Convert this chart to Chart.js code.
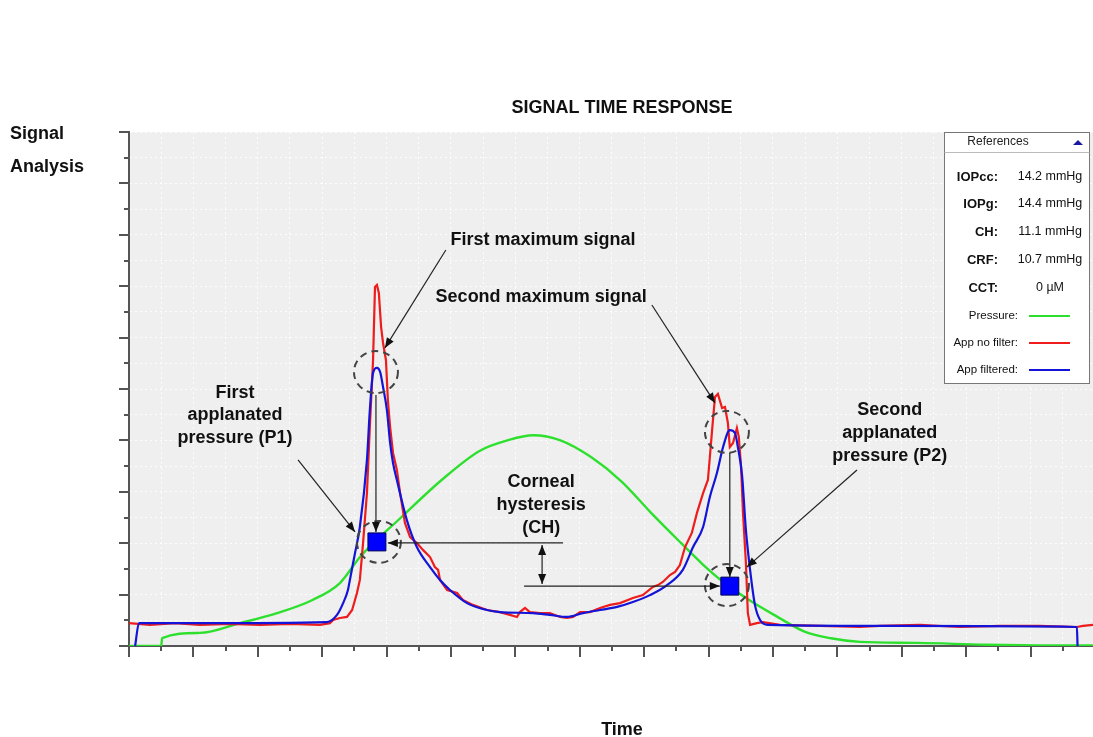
<!DOCTYPE html>
<html><head><meta charset="utf-8">
<script src="https://cdn.jsdelivr.net/npm/chart.js@4.4.0/dist/chart.umd.min.js"></script>
<style>html,body{margin:0;padding:0;background:#fff}canvas{display:block}</style>
</head><body>
<canvas id="c" width="1093" height="737"></canvas>
<script>
// ---- series (x in time units, y in signal units) ----
const pressureX = [0,1.0,1.03,2.2,3.45,4.6,5.7,6.55,7.2,8.45,9.7,10.9,11.75,12.55,13.4,14.35,15.3,16.2,17.15,17.8,18.4,19.25,20.05,21.0,21.8,22.7,24.5,26.6,28.7,29.94];
const pressureY = [0,0,0.31,0.51,0.89,1.28,1.79,2.45,3.5,5.0,6.45,7.6,8.0,8.2,8.0,7.35,6.4,5.2,4.0,3.2,2.55,1.8,1.2,0.55,0.3,0.16,0.12,0.05,0.02,0.02];

const filteredX = [0.19,0.31,2.2,6.15,6.46,6.65,6.80,6.86,7.02,7.17,7.39,7.48,7.58,7.70,7.80,7.89,8.01,8.11,8.20,8.32,8.63,8.94,9.35,9.66,9.97,10.50,10.99,11.52,12.55,13.07,13.60,14.10,14.63,15.16,15.65,16.18,16.71,17.20,17.52,17.83,18.04,18.26,18.45,18.66,18.82,18.91,19.04,19.16,19.29,19.44,19.60,19.84,23.94,29.44,29.46];
const filteredY = [0,0.89,0.89,0.93,1.21,1.67,2.18,2.57,3.62,4.63,7.24,9.18,10.62,10.82,10.66,10.08,9.18,7.90,7.12,6.46,4.90,3.85,3.07,2.57,2.18,1.67,1.44,1.32,1.28,1.21,1.13,1.28,1.40,1.52,1.71,1.98,2.37,2.96,3.85,4.63,5.80,6.73,7.74,8.40,8.29,7.74,6.65,4.51,2.96,1.60,1.01,0.82,0.78,0.74,0];

const noFilterX = [0,0.65,1.43,2.2,3.14,4.07,5.0,5.93,6.24,6.34,6.55,6.77,6.93,7.08,7.17,7.27,7.39,7.48,7.58,7.64,7.70,7.76,7.83,7.89,7.98,8.04,8.11,8.20,8.32,8.42,8.57,8.73,8.94,9.13,9.35,9.50,9.60,9.66,9.88,10.19,10.37,10.68,11.12,11.52,11.83,12.05,12.14,12.30,12.45,12.76,13.07,13.39,13.60,13.79,14.01,14.32,14.63,14.94,15.25,15.65,15.96,16.27,16.43,16.58,16.80,16.96,17.11,17.27,17.48,17.64,17.83,17.98,18.11,18.20,18.29,18.42,18.51,18.60,18.66,18.76,18.88,18.94,19.01,19.07,19.16,19.22,19.29,19.50,19.69,20.22,21.46,22.70,23.32,24.57,25.81,27.05,28.29,29.44,29.63,29.94];
const noFilterY = [0.89,0.82,0.89,0.82,0.86,0.82,0.86,0.82,0.89,1.01,1.09,1.13,1.40,2.06,2.57,4.01,5.95,8.52,11.13,13.97,14.05,13.74,12.41,11.79,11.13,9.57,8.52,7.51,6.85,5.95,4.79,4.24,4.01,3.74,3.46,3.07,2.96,2.57,2.18,2.06,1.79,1.60,1.40,1.32,1.21,1.13,1.32,1.48,1.32,1.28,1.28,1.13,1.09,1.13,1.32,1.32,1.48,1.60,1.67,1.87,1.98,2.30,2.37,2.49,2.76,2.88,3.15,3.85,4.40,5.18,5.95,6.46,8.40,9.69,9.81,9.26,9.30,8.68,7.74,7.90,8.48,8.13,6.96,5.18,3.23,1.28,0.82,0.89,0.93,0.82,0.78,0.74,0.78,0.82,0.74,0.78,0.78,0.74,0.78,0.82];

// applanation markers (P1, P2)
const markerX = [7.70, 18.66];
const markerY = [4.05, 2.33];

// annotation circles (centres)
const circleX = [7.67, 7.76, 18.57, 18.57];
const circleY = [10.66, 4.05, 8.33, 2.37];

// annotation arrows: from -> to, double = head on both ends
const arrowFromX = [9.84, 16.24, 5.25, 22.61, 7.67, 13.48, 12.83, 12.27, 18.66];
const arrowFromY = [15.41, 13.27, 7.24, 6.85, 9.77, 4.01, 3.93, 2.33, 7.51];
const arrowToX   = [7.95, 18.20, 7.02, 19.19, 7.67, 8.04, 12.83, 18.35, 18.66];
const arrowToY   = [11.60, 9.46, 4.44, 3.07, 4.44, 4.01, 2.41, 2.33, 2.68];
const arrowDouble = [false,false,false,false,false,false,true,false,false];

// annotation texts
const noteText = ["First maximum signal","Second maximum signal","First","applanated","pressure (P1)","Second","applanated","pressure (P2)","Corneal","hysteresis","(CH)"];
const noteX = [12.86,12.80,3.29,3.29,3.29,23.63,23.63,23.63,12.80,12.80,12.80];
const noteY = [15.80,13.58,9.84,8.99,8.09,9.18,8.29,7.39,6.38,5.49,4.59];

// reference panel
const refLabels = ["IOPcc:","IOPg:","CH:","CRF:","CCT:"];
const refValues = ["14.2 mmHg","14.4 mmHg","11.1 mmHg","10.7 mmHg","0 \u00b5M"];

const xTicks = Array.from({length:30},(_, i)=>i);
const yTicks = Array.from({length:21},(_, i)=>i);

const FONT = "'Liberation Sans', Arial, sans-serif";
const pairs = (xs, ys) => xs.map((x,i)=>({x, y: ys[i]}));

const bgPlugin = {
  id:'bg',
  beforeDraw(chart){
    const {ctx, chartArea:a} = chart;
    ctx.save();
    ctx.fillStyle = '#efefef';
    ctx.fillRect(a.left, a.top, a.right-a.left, a.bottom-a.top);
    ctx.restore();
  }
};

function arrowHead(ctx, x1, y1, x2, y2){
  const ang = Math.atan2(y2-y1, x2-x1);
  const L = 10, W = 4;
  ctx.beginPath();
  ctx.moveTo(x2, y2);
  ctx.lineTo(x2 - L*Math.cos(ang) + W*Math.sin(ang), y2 - L*Math.sin(ang) - W*Math.cos(ang));
  ctx.lineTo(x2 - L*Math.cos(ang) - W*Math.sin(ang), y2 - L*Math.sin(ang) + W*Math.cos(ang));
  ctx.closePath();
  ctx.fill();
}

const annotPlugin = {
  id:'annot',
  afterDatasetsDraw(chart){
    const {ctx, scales:{x, y}} = chart;
    ctx.save();
    ctx.strokeStyle = '#444';
    ctx.lineWidth = 2;
    ctx.setLineDash([7,5]);
    circleX.forEach((cx,i)=>{
      ctx.beginPath();
      ctx.ellipse(x.getPixelForValue(cx), y.getPixelForValue(circleY[i]), 22, 21, 0, 0, Math.PI*2);
      ctx.stroke();
    });
    ctx.setLineDash([]);
    ctx.strokeStyle = '#222';
    ctx.fillStyle = '#111';
    ctx.lineWidth = 1.2;
    arrowFromX.forEach((fx,i)=>{
      const x1 = x.getPixelForValue(fx), y1 = y.getPixelForValue(arrowFromY[i]);
      const x2 = x.getPixelForValue(arrowToX[i]), y2 = y.getPixelForValue(arrowToY[i]);
      ctx.beginPath(); ctx.moveTo(x1,y1); ctx.lineTo(x2,y2); ctx.stroke();
      arrowHead(ctx, x1, y1, x2, y2);
      if (arrowDouble[i]) arrowHead(ctx, x2, y2, x1, y1);
    });
    ctx.fillStyle = '#111';
    ctx.font = 'bold 18px ' + FONT;
    ctx.textAlign = 'center';
    ctx.textBaseline = 'middle';
    noteText.forEach((t,i)=>{
      ctx.fillText(t, x.getPixelForValue(noteX[i]), y.getPixelForValue(noteY[i]));
    });
    ctx.restore();
  }
};

const framePlugin = {
  id:'frame',
  afterDraw(chart){
    const {ctx, chartArea:a, scales:{x, y}} = chart;
    ctx.save();
    ctx.strokeStyle = '#555';
    ctx.lineWidth = 2;
    yTicks.forEach(v=>{
      const py = Math.round(y.getPixelForValue(v));
      const len = v%2===0 ? 10 : 5;
      ctx.beginPath(); ctx.moveTo(a.left-len, py); ctx.lineTo(a.left, py); ctx.stroke();
    });
    xTicks.forEach(v=>{
      const px = Math.round(x.getPixelForValue(v));
      const len = v%2===0 ? 11 : 5;
      ctx.beginPath(); ctx.moveTo(px, a.bottom); ctx.lineTo(px, a.bottom+len); ctx.stroke();
    });
    ctx.fillStyle = '#111';
    ctx.textBaseline = 'middle';
    ctx.font = 'bold 18px ' + FONT;
    ctx.textAlign = 'center';
    ctx.fillText('SIGNAL TIME RESPONSE', 622, 108);
    ctx.fillText('Time', 622, 730);
    ctx.textAlign = 'left';
    ctx.fillText('Signal', 10, 134);
    ctx.fillText('Analysis', 10, 167);

    // reference panel
    const L = 944.5, T = 132.5, W = 145, H = 251;
    ctx.fillStyle = '#ffffff';
    ctx.fillRect(L, T, W, H);
    ctx.strokeStyle = '#777';
    ctx.lineWidth = 1;
    ctx.strokeRect(L, T, W, H);
    ctx.strokeStyle = '#bbb';
    ctx.beginPath(); ctx.moveTo(L, 152.5); ctx.lineTo(L+W, 152.5); ctx.stroke();
    ctx.fillStyle = '#222';
    ctx.font = '12px ' + FONT;
    ctx.textAlign = 'center';
    ctx.fillText('References', 998, 142);
    ctx.fillStyle = '#1a1aa0';
    ctx.beginPath(); ctx.moveTo(1073,145); ctx.lineTo(1083,145); ctx.lineTo(1078,140); ctx.closePath(); ctx.fill();
    const rowY = [177, 204, 232, 260, 288];
    refLabels.forEach((t,i)=>{
      ctx.fillStyle = '#111';
      ctx.font = 'bold 13px ' + FONT;
      ctx.textAlign = 'right';
      ctx.fillText(t, 998, rowY[i]);
      ctx.font = '12.5px ' + FONT;
      ctx.textAlign = 'center';
      ctx.fillText(refValues[i], 1050, rowY[i]);
    });
    const legY = [316, 343, 370];
    const legSets = [3, 2, 1];
    legSets.forEach((di,i)=>{
      const ds = chart.data.datasets[di];
      ctx.fillStyle = '#111';
      ctx.font = '11.5px ' + FONT;
      ctx.textAlign = 'right';
      ctx.fillText(ds.label, 1018, legY[i]);
      ctx.strokeStyle = ds.borderColor;
      ctx.lineWidth = 2;
      ctx.beginPath(); ctx.moveTo(1029, legY[i]); ctx.lineTo(1070, legY[i]); ctx.stroke();
    });
    ctx.restore();
  }
};

new Chart(document.getElementById('c'), {
  type: 'scatter',
  data: {
    datasets: [
      { label:'Applanation', data: pairs(markerX, markerY), showLine:false,
        pointStyle:'rect', pointRadius:12.7, pointHoverRadius:12.7,
        backgroundColor:'#0000ff', borderColor:'#000055', borderWidth:1 },
      { label:'App filtered:', data: pairs(filteredX, filteredY), showLine:true,
        borderColor:'#1414d8', borderWidth:2.2, pointRadius:0, cubicInterpolationMode:'monotone' },
      { label:'App no filter:', data: pairs(noFilterX, noFilterY), showLine:true,
        borderColor:'#ee1c1c', borderWidth:2.2, pointRadius:0, tension:0 },
      { label:'Pressure:', data: pairs(pressureX, pressureY), showLine:true,
        borderColor:'#2ee02e', borderWidth:2.4, pointRadius:0, cubicInterpolationMode:'monotone' }
    ]
  },
  options: {
    responsive:false,
    animation:false,
    events:[],
    layout:{ autoPadding:false, padding:{ left:129, top:132, right:0, bottom:91 } },
    plugins:{ legend:{display:false}, title:{display:false}, tooltip:{enabled:false} },
    scales:{
      x:{ type:'linear', min:0, max:29.94,
          afterBuildTicks: s => { s.ticks = xTicks.map(v=>({value:v})); },
          afterFit: s => { s.height = 0; },
          ticks:{ display:false },
          grid:{ drawTicks:false, color: c => (c.tick && c.tick.value===0) ? 'rgba(0,0,0,0)' : 'rgba(255,255,255,0.85)', lineWidth:1 },
          border:{ display:true, color:'#555', width:2, dash:[2,3] } },
      y:{ type:'linear', min:0, max:20,
          afterBuildTicks: s => { s.ticks = yTicks.map(v=>({value:v})); },
          afterFit: s => { s.width = 0; },
          ticks:{ display:false },
          grid:{ drawTicks:false, color: c => (c.tick && c.tick.value===0) ? 'rgba(0,0,0,0)' : 'rgba(255,255,255,0.85)', lineWidth:1 },
          border:{ display:true, color:'#555', width:2, dash:[2,3] } }
    }
  },
  plugins:[bgPlugin, annotPlugin, framePlugin]
});
</script>
</body></html>
